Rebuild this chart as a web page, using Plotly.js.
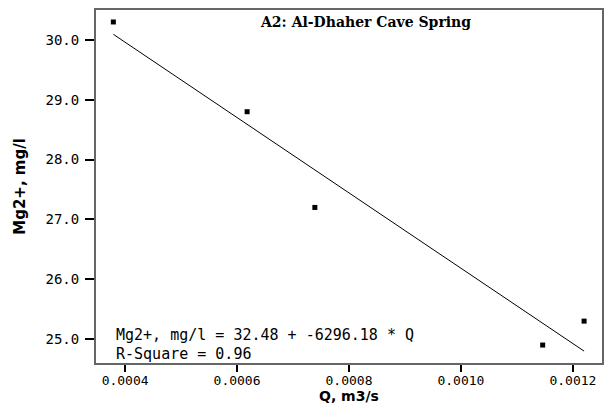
<!DOCTYPE html>
<html>
<head>
<meta charset="utf-8">
<script src="https://cdn.plot.ly/plotly-3.0.1.min.js"></script>
<style>html,body{margin:0;padding:0;background:#fff;}#chart{width:604px;height:407px;}</style>
</head>
<body>
<div id="chart"></div>
<script>
// Observed data
var qValues = [0.000379, 0.000618, 0.000739, 0.001146, 0.00122];
var mgValues = [30.3, 28.8, 27.2, 24.9, 25.3];
// Regression reported on the chart
var fitIntercept = 32.48;
var fitSlope = -6296.18;
var fitX = [0.000379, 0.00122];
var fitY = fitX.map(function (x) { return fitIntercept + fitSlope * x; });
var xTicks = [0.0004, 0.0006, 0.0008, 0.0010, 0.0012];
var xTickLabels = ['0.0004', '0.0006', '0.0008', '0.0010', '0.0012'];
var yTicks = [25, 26, 27, 28, 29, 30];
var yTickLabels = ['25.0', '26.0', '27.0', '28.0', '29.0', '30.0'];

var mono = 'DejaVu Sans Mono, monospace';

var traces = [
  {
    x: fitX, y: fitY, mode: 'lines', type: 'scatter',
    line: {color: '#000', width: 1}, hoverinfo: 'skip', showlegend: false
  },
  {
    x: qValues, y: mgValues, mode: 'markers', type: 'scatter',
    marker: {symbol: 'square', size: 5, color: '#000'}, showlegend: false
  }
];

var layout = {
  width: 604, height: 407,
  margin: {l: 96, r: 2, t: 10, b: 44},
  paper_bgcolor: '#fff', plot_bgcolor: '#fff',
  showlegend: false,
  title: {
    text: '<b>A2: Al-Dhaher Cave Spring</b>',
    font: {family: 'DejaVu Serif, serif', size: 14, color: '#000'},
    xref: 'container', yref: 'container',
    x: 0.606, xanchor: 'center', y: 0.946, yanchor: 'middle'
  },
  xaxis: {
    range: [0.000348, 0.001252],
    tickvals: xTicks, ticktext: xTickLabels,
    ticks: 'outside', ticklen: 7, tickwidth: 2, tickcolor: '#000',
    ticklabelstandoff: -3,
    showgrid: false, zeroline: false,
    showline: true, linecolor: '#666', linewidth: 2, mirror: true,
    tickfont: {family: mono, size: 13, color: '#000'}
  },
  yaxis: {
    range: [24.6, 30.5],
    tickvals: yTicks, ticktext: yTickLabels,
    ticks: 'outside', ticklen: 9, tickwidth: 2, tickcolor: '#000',
    ticklabelstandoff: 3,
    showgrid: false, zeroline: false,
    showline: true, linecolor: '#666', linewidth: 2, mirror: true,
    tickfont: {family: mono, size: 14, color: '#000'},
    title: {text: '<b>Mg2+, mg/l</b>', font: {family: 'DejaVu Sans, sans-serif', size: 15, color: '#000'}, standoff: 16}
  },
  annotations: [
    {
      xref: 'paper', yref: 'paper', x: 0.5, y: -0.094, xanchor: 'center', yanchor: 'middle',
      text: '<b>Q, m3/s</b>', showarrow: false,
      font: {family: 'DejaVu Sans, sans-serif', size: 14, color: '#000'}
    },
    {
      xref: 'paper', yref: 'paper', x: 0.036, y: 0.079, xanchor: 'left', yanchor: 'middle',
      text: 'Mg2+, mg/l = 32.48 + -6296.18 * Q', showarrow: false,
      font: {family: mono, size: 15, color: '#000'}
    },
    {
      xref: 'paper', yref: 'paper', x: 0.036, y: 0.026, xanchor: 'left', yanchor: 'middle',
      text: 'R-Square = 0.96', showarrow: false,
      font: {family: mono, size: 15, color: '#000'}
    }
  ]
};

Plotly.newPlot('chart', traces, layout, {displayModeBar: false, staticPlot: true});
</script>
</body>
</html>
